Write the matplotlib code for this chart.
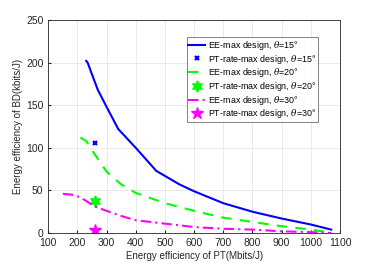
import numpy as np
import matplotlib.pyplot as plt

plt.rcParams['font.family'] = ['Liberation Sans', 'DejaVu Sans']
plt.rcParams['mathtext.fontset'] = 'dejavuserif'

# EE-max design curves
pt_15 = [230, 235, 250, 270, 300, 340, 400, 470, 500, 550, 600, 700, 800, 900, 1000, 1070]
bd_15 = [202, 200, 186, 168, 148, 122, 100, 73, 67, 57, 49, 35, 25, 17, 10, 4]

pt_20 = [210, 230, 260, 300, 350, 400, 500, 600, 700, 800, 900, 1000, 1060]
bd_20 = [112, 108, 92, 72, 57, 47, 35, 26, 18, 13, 8, 4, 1]

pt_30 = [150, 180, 210, 260, 300, 350, 400, 500, 600, 700, 800, 900, 1000, 1070]
bd_30 = [46, 45, 42, 31, 26, 20, 15, 11, 7, 5, 4, 2, 1, 0]

# PT-rate-max design points
rate_pt = [260, 260, 260]
rate_bd = [106, 38, 4]


def main():
    fig = plt.figure(figsize=(3.74, 2.63), dpi=100)
    ax = fig.add_axes([0.129, 0.114, 0.78, 0.81])

    ax.plot(pt_15, bd_15, color='#0000ff', lw=1.5, label=r'EE-max design, $\theta$=15°')
    ax.plot(rate_pt[0], rate_bd[0], 'x', color='#0000ff', ms=3.5, mew=1.6,
            ls='none', label=r'PT-rate-max design, $\theta$=15°')
    ax.plot(pt_20, bd_20, color='#00ff00', lw=1.5, ls=(0, (5, 4)), label=r'EE-max design, $\theta$=20°')
    ax.plot(rate_pt[1], rate_bd[1], marker=(6, 1, 0), color='#00ff00', ms=8,
            ls='none', label=r'PT-rate-max design, $\theta$=20°')
    ax.plot(pt_30, bd_30, color='#ff00ff', lw=1.5, ls=(0, (5, 2, 1, 2)), label=r'EE-max design, $\theta$=30°')
    ax.plot(rate_pt[2], rate_bd[2], '*', color='#ff00ff', ms=9,
            ls='none', label=r'PT-rate-max design, $\theta$=30°')

    ax.set_xlim(100, 1100)
    ax.set_ylim(0, 250)
    ax.set_xticks(np.arange(100, 1101, 100))
    ax.set_yticks(np.arange(0, 251, 50))
    ax.tick_params(direction='in', labelsize=7.5, length=2, colors='#262626')
    ax.grid(True, color='#e6e6e6', lw=0.6)
    ax.set_axisbelow(True)
    for s in ax.spines.values():
        s.set_color('#262626')
        s.set_linewidth(0.6)

    ax.set_xlabel('Energy efficiency of PT(Mbits/J)', fontsize=7, color='#262626', labelpad=2)
    ax.set_ylabel('Energy efficiency of BD(kbits/J)', fontsize=7, color='#262626', labelpad=2)

    leg = ax.legend(loc='upper right', bbox_to_anchor=(0.925, 0.92), fontsize=6.4,
                    fancybox=False, handlelength=1.9, borderpad=0.2,
                    labelspacing=0.08, handletextpad=0.3, borderaxespad=0)
    leg.get_frame().set_edgecolor('#262626')
    leg.get_frame().set_linewidth(0.5)

    fig.savefig('out.png', dpi=100)


if __name__ == '__main__':
    main()
